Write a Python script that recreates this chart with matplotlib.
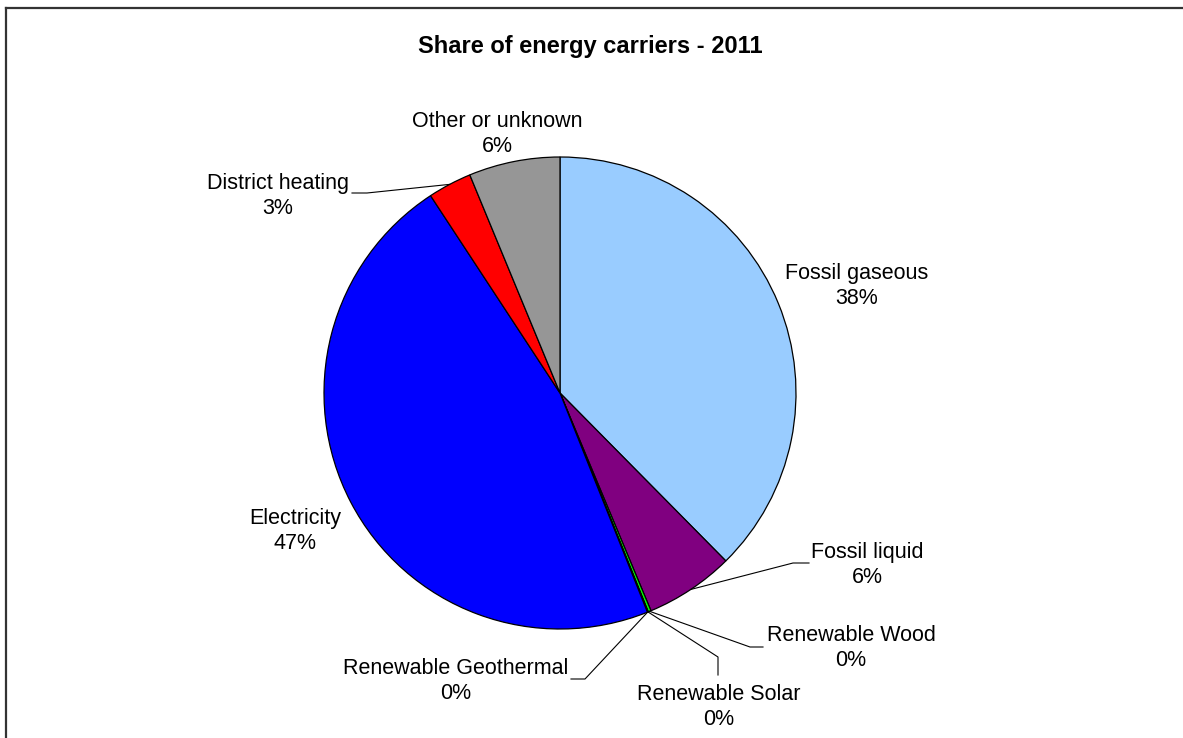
import numpy as np
import matplotlib
matplotlib.use("Agg")
import matplotlib.pyplot as plt
from matplotlib.lines import Line2D

# ---- data ----
categories = ["Fossil gaseous", "Fossil liquid", "Renewable Wood", "Renewable Solar",
              "Renewable Geothermal", "Electricity", "District heating", "Other or unknown"]
shares = [37.6, 6.1, 0.2, 0.03, 0.03, 46.8, 3.0, 6.24]
colors = ["#99CCFF", "#800080", "#00FF00", "#FFFF00", "#FF9900", "#0000FF", "#FF0000", "#969696"]
title = "Share of energy carriers - 2011"

# ---- layout (pixel coordinates, y measured from top) ----
W, H = 1183, 738
cx, cy, R = 560, 393, 236
label_pos = {
    "Fossil gaseous": (857, 286),
    "Fossil liquid": (867, 565),
    "Renewable Wood": (851, 648),
    "Renewable Solar": (719, 707),
    "Renewable Geothermal": (456, 681),
    "Electricity": (295, 531),
    "District heating": (278, 196),
    "Other or unknown": (497, 134),
}
# leader lines: (elbow point, end point) for labels that have one
leaders = {
    "Fossil liquid": [(793, 563), (809, 563)],
    "Renewable Wood": [(750, 647), (763, 647)],
    "Renewable Solar": [(718, 657), (718, 675)],
    "Renewable Geothermal": [(585, 679), (571, 679)],
    "District heating": [(367, 193), (352, 193)],
}

plt.rcParams['font.family'] = ['Liberation Sans', 'DejaVu Sans']
fig = plt.figure(figsize=(W / 100, H / 100), dpi=100)
ax = fig.add_axes([0, 0, 1, 1])

wedges, _ = ax.pie(shares, colors=colors, startangle=90, counterclock=False,
                   center=(cx, H - cy), radius=R, frame=True,
                   wedgeprops=dict(edgecolor="black", linewidth=0.9))
ax.set_xlim(0, W)
ax.set_ylim(0, H)
ax.axis("off")

total = sum(shares)
for name, val, w in zip(categories, shares, wedges):
    tx, ty = label_pos[name]
    ax.text(tx, H - ty, f"{name}\n{val / total * 100:.0f}%", ha="center", va="center",
            fontsize=15.5, linespacing=1.2, color="black")
    if name in leaders:
        mid = np.deg2rad((w.theta1 + w.theta2) / 2)
        ax_pt = (cx + R * np.cos(mid), H - cy + R * np.sin(mid))
        pts = [ax_pt] + [(px, H - py) for px, py in leaders[name]]
        xs, ys = zip(*pts)
        ax.plot(xs, ys, color="black", linewidth=0.8, clip_on=False)

ax.text(590, H - 46, title, ha="center", va="center", fontsize=17, fontweight="bold")

# outer frame (left and top edges visible)
fig.add_artist(Line2D([6 / W, 6 / W], [0, 1 - 8 / H], color="#333333", linewidth=1.6,
                      transform=fig.transFigure))
fig.add_artist(Line2D([6 / W, 1], [1 - 8 / H, 1 - 8 / H], color="#333333", linewidth=1.6,
                      transform=fig.transFigure))

fig.savefig("out.png", dpi=100)
